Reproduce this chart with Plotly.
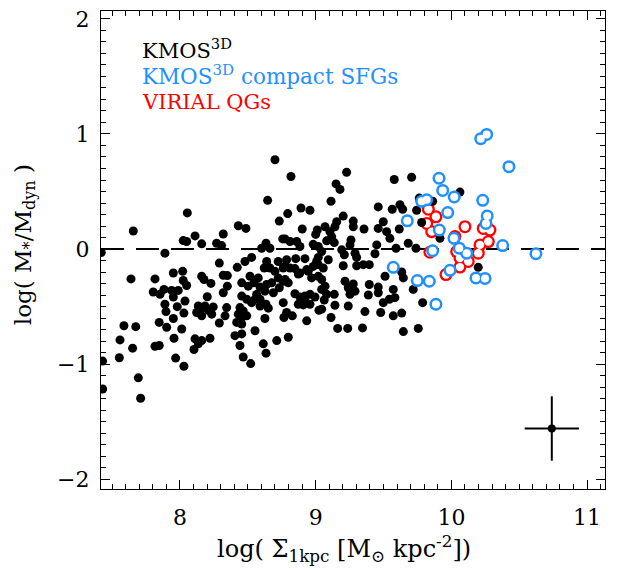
import plotly.graph_objects as go

# ---- KMOS3D (black filled points) ----
kmos_x = [7.656, 7.889, 7.42, 7.639, 7.816, 7.951, 7.803, 7.853, 7.882, 7.939, 7.987, 7.951, 7.889, 7.897,
          7.980, 7.847, 7.902, 7.951, 7.587, 7.674, 7.558, 7.651, 7.553, 7.956, 7.816, 7.847, 7.968, 7.43,
          7.693, 7.43, 7.710,
          8.054, 8.700, 8.646, 8.732, 8.430, 8.486, 8.319, 8.111, 8.024, 8.049, 8.160, 8.270, 8.307, 8.634,
          8.602, 8.663, 8.757, 8.528, 8.479, 8.422, 8.290, 8.639, 8.663, 8.621, 8.724, 8.761, 8.700, 8.020,
          8.024, 8.049, 8.160, 8.177, 8.319, 8.349, 8.349, 8.319, 8.228, 8.455, 8.516, 8.503, 8.545, 8.590,
          8.565, 8.639, 8.676, 8.724, 8.761, 8.626, 8.688, 8.732, 8.201, 8.455, 8.492, 8.528, 8.553, 8.590,
          8.634, 8.651, 8.590, 8.037, 8.029, 8.135, 8.184, 8.147, 8.209, 8.245, 8.234, 8.123, 8.160, 8.344,
          8.332, 8.442, 8.466, 8.430, 8.455, 8.492, 8.418, 8.455, 8.455, 8.405, 8.442, 8.466, 8.521, 8.290,
          8.626, 8.761, 8.766, 8.553, 8.013, 8.111, 8.160, 8.221, 8.135, 8.103, 8.614, 8.634, 8.713, 8.029,
          8.577,
          8.818, 9.228, 9.150, 9.179, 9.113, 8.794, 8.892, 8.958, 9.203, 9.155, 9.142, 9.277, 9.277, 8.901,
          9.012, 9.000, 9.069, 9.105, 9.118, 9.081, 9.137, 9.260, 9.253, 8.774, 8.811, 8.860, 8.982, 9.019,
          9.192, 9.211, 9.290, 9.302, 8.853, 8.921, 9.019, 9.093, 9.203, 9.302, 8.774, 8.811, 8.847, 8.872,
          8.934, 8.982, 9.007, 8.774, 8.798, 8.970, 9.019, 9.044, 9.069, 9.216, 9.277, 9.290, 8.847, 8.884,
          8.921, 8.958, 8.995, 8.872, 8.909, 9.063, 9.137, 9.142, 9.240, 8.786, 8.828, 8.934, 9.024, 9.113,
          9.162, 9.236, 8.798, 8.884, 9.044, 9.056, 9.019, 9.081, 9.044, 9.253, 9.240, 8.958, 8.921, 8.786,
          8.884, 8.945, 9.044,
          9.579, 9.707, 10.063, 9.763, 9.862, 9.461, 9.564, 9.621, 9.641, 9.744, 9.356, 9.461, 9.498, 9.523,
          9.547, 9.616, 9.781, 9.916, 9.450, 9.592, 9.682, 9.739, 9.437, 9.351, 9.395, 9.634, 9.646, 9.511,
          9.395, 9.461, 9.388, 9.461, 9.572, 9.584, 9.543, 9.498, 9.363, 9.479, 9.572, 9.634, 9.719, 9.788,
          10.198, 9.345, 9.646, 9.756]
kmos_y = [0.157, -0.036, -0.030, -0.260, -0.260, -0.208, -0.374, -0.394, -0.351, -0.360, -0.360, -0.417,
          -0.480, -0.544, -0.501, -0.638, -0.681, -0.604, -0.667, -0.675, -0.790, -0.862, -0.945, -0.776,
          -0.845, -0.839, -0.948, -0.974, -1.120, -1.217, -1.297,
          0.314, 0.776, 0.423, 0.243, 0.202, 0.179, 0.131, 0.114, 0.073, 0.065, 0.045, 0.050, 0.030, 0.050,
          0.007, 0.007, 0.088, -0.073, -0.108, -0.159, -0.122, -0.108, -0.165, -0.165, -0.108, -0.165, -0.194,
          -0.194, -0.274, -0.317, -0.237, -0.265, -0.228, -0.231, -0.323, -0.380, -0.299, -0.294, -0.237,
          -0.323, -0.294, -0.331, -0.394, -0.308, -0.294, -0.251, -0.280, -0.366, -0.380, -0.337, -0.415,
          -0.409, -0.437, -0.466, -0.437, -0.495, -0.480, -0.514, -0.437, -0.452, -0.557, -0.495, -0.495,
          -0.538, -0.532, -0.503, -0.566, -0.552, -0.581, -0.509, -0.581, -0.509, -0.538, -0.566, -0.595,
          -0.581, -0.638, -0.652, -0.738, -0.753, -0.839, -0.939, -0.996, -0.643, -0.604, -0.466, -0.595,
          -0.710, -0.695, -0.781, -0.796, -0.776, -0.824, -0.873, -0.824, -0.905, -0.796, -1.019,
          -0.251,
          0.630, 0.667, 0.566, 0.518, 0.415, 0.308, 0.357, 0.337, 0.286, 0.237, 0.194, 0.243, 0.194, 0.174,
          0.165, 0.127, 0.194, 0.151, 0.108, 0.071, 0.056, 0.079, 0.036, 0.088, 0.065, 0.065, 0.041, 0.022,
          -0.007, -0.050, -0.036, -0.073, -0.084, -0.084, -0.073, -0.093, -0.145, -0.145, -0.151, -0.165,
          -0.170, -0.217, -0.179, -0.151, -0.108, -0.265, -0.294, -0.251, -0.237, -0.265, -0.323, -0.280,
          -0.303, -0.366, -0.389, -0.417, -0.409, -0.394, -0.417, -0.480, -0.486, -0.443, -0.394, -0.489,
          -0.495, -0.552, -0.581, -0.624, -0.532, -0.595, -0.690, -0.690, -0.767, 0.022, -0.022, -0.165,
          -0.136, -0.394, -0.351, -0.394, -0.337, -0.480, -0.446, -0.093, -0.208, -0.194, -0.523,
          0.604, 0.624, 0.495, 0.443, 0.415, 0.366, 0.346, 0.385, 0.346, 0.337, 0.174, 0.179, 0.237, 0.151,
          0.093, 0.174, 0.231, 0.093, 0.036, 0.007, 0.050, 0.007, -0.041, -0.136, -0.136, -0.200, -0.251,
          -0.237, -0.308, -0.331, -0.400, -0.380, -0.351, -0.423, -0.437, -0.466, -0.544, -0.552, -0.581,
          -0.557, -0.351, -0.466, -0.159, -0.686, -0.718, -0.690]

# ---- KMOS3D compact SFGs (blue open circles) ----
sfg_x = [10.216, 10.260, 10.424, 9.909, 9.936, 10.021, 9.781, 9.818, 10.231, 9.973, 10.264, 10.255, 9.675,
         9.911, 10.019, 9.862, 10.058, 10.113, 10.378, 10.623, 9.990, 9.572, 9.749, 9.837, 10.181, 10.248,
         9.886]
sfg_y = [0.959, 0.996, 0.716, 0.615, 0.509, 0.452, 0.415, 0.428, 0.423, 0.317, 0.288, 0.222, 0.245,
         0.165, 0.093, -0.015, 0.007, -0.036, 0.030, -0.041, -0.185, -0.159, -0.274, -0.280, -0.251, -0.256,
         -0.480]

# ---- VIRIAL QGs (red open circles) ----
qg_x = [9.830, 9.886, 9.818, 9.855, 10.100, 9.842, 10.026, 10.039, 10.063, 10.063, 10.124, 9.960, 10.235,
        10.284, 10.272, 10.211, 10.198]
qg_y = [0.346, 0.280, 0.222, 0.151, 0.194, -0.028, 0.108, -0.022, -0.079, -0.157, -0.108, -0.222, 0.179,
        0.165, 0.065, 0.036, -0.036]

# ---- typical error bar ----
err_x = [10.74]
err_y = [-1.56]
err_dx = [0.20]
err_dy = [0.28]

# ---- axes ----
x_range = [7.418, 11.132]
y_range = [-2.086, 2.069]

BLUE = "rgb(30,144,255)"
RED = "rgb(255,0,0)"
FONT = "DejaVu Serif"

fig = go.Figure()

# red rings (outer colour disc then white inner disc -> union outline)
fig.add_trace(go.Scatter(x=qg_x, y=qg_y, mode="markers", hoverinfo="skip",
                         marker=dict(symbol="circle", size=13, color=RED, line=dict(width=0))))
fig.add_trace(go.Scatter(x=qg_x, y=qg_y, mode="markers", hoverinfo="skip",
                         marker=dict(symbol="circle", size=8.4, color="white", line=dict(width=0))))
# black points
fig.add_trace(go.Scatter(x=kmos_x, y=kmos_y, mode="markers",
                         marker=dict(symbol="circle", size=9, color="black", line=dict(width=0))))
# blue rings
fig.add_trace(go.Scatter(x=sfg_x, y=sfg_y, mode="markers", hoverinfo="skip",
                         marker=dict(symbol="circle", size=13, color=BLUE, line=dict(width=0))))
fig.add_trace(go.Scatter(x=sfg_x, y=sfg_y, mode="markers", hoverinfo="skip",
                         marker=dict(symbol="circle", size=8, color="white", line=dict(width=0))))
# error bar
fig.add_trace(go.Scatter(x=err_x, y=err_y, mode="markers",
                         marker=dict(symbol="circle", size=8, color="black"),
                         error_x=dict(type="data", array=err_dx, color="black", thickness=2, width=0),
                         error_y=dict(type="data", array=err_dy, color="black", thickness=2, width=0)))

# dashed zero line
fig.add_shape(type="line", xref="x domain", yref="y", x0=0, x1=1, y0=0, y1=0,
              line=dict(color="black", width=2, dash="23px,12px"), layer="below")

axis_common = dict(
    showgrid=False, zeroline=False, showline=True, linecolor="black", linewidth=1.3,
    mirror="allticks", ticks="inside", ticklen=9, tickwidth=1.3, tickcolor="black",
    dtick=1, tickfont=dict(family=FONT, size=22, color="black"),
    minor=dict(ticks="inside", ticklen=5, tickwidth=1.1, tickcolor="black", dtick=0.1, showgrid=False),
)

fig.update_xaxes(range=x_range, tick0=8, ticklabelstandoff=8, **axis_common)
fig.update_yaxes(range=y_range, tick0=0, ticklabelstandoff=6, **axis_common)

annotations = [
    dict(text="log( Σ<sub>1kpc</sub> [M<sub>⊙</sub> kpc<sup>-2</sup>])", xref="paper", yref="paper",
         x=0.482, y=-0.124, xanchor="center", yanchor="middle", showarrow=False,
         font=dict(family=FONT, size=24, color="black")),
    dict(text="log( M<sub>*</sub>/M<sub>dyn</sub> )", xref="paper", yref="paper",
         x=-0.151, y=0.512, xanchor="center", yanchor="middle", showarrow=False, textangle=-90,
         font=dict(family=FONT, size=23, color="black")),
    dict(text="KMOS<sup>3D</sup>", xref="paper", yref="paper", x=0.077, y=0.921,
         xanchor="left", yanchor="middle", showarrow=False,
         font=dict(family=FONT, size=21, color="black")),
    dict(text="KMOS<sup>3D</sup> compact SFGs", xref="paper", yref="paper", x=0.077, y=0.866,
         xanchor="left", yanchor="middle", showarrow=False,
         font=dict(family=FONT, size=21.5, color=BLUE)),
    dict(text="VIRIAL QGs", xref="paper", yref="paper", x=0.077, y=0.809,
         xanchor="left", yanchor="middle", showarrow=False,
         font=dict(family=FONT, size=21, color=RED)),
]

fig.update_layout(
    width=620, height=570,
    margin=dict(l=101, r=15, t=7, b=81),
    paper_bgcolor="white", plot_bgcolor="white",
    showlegend=False,
    annotations=annotations,
)

fig.write_html("out.html")
